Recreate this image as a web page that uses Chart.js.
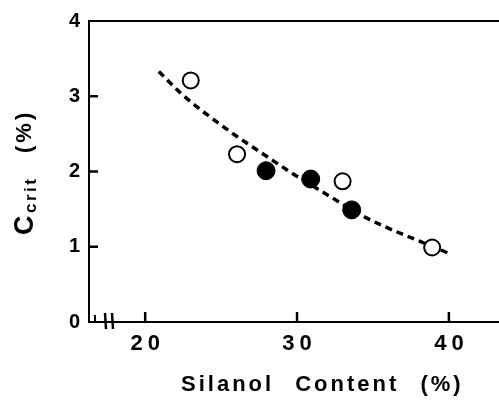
<!DOCTYPE html>
<html>
<head>
<meta charset="utf-8">
<script src="https://cdn.jsdelivr.net/npm/chart.js@4.4.1/dist/chart.umd.min.js"></script>
<style>
html,body{margin:0;padding:0;background:#fff;}
#wrap{width:499px;height:400px;position:relative;}
</style>
</head>
<body>
<div id="wrap"><canvas id="c" width="499" height="400"></canvas></div>
<script>
// ---- data ----
const openX = [23.0, 26.05, 33.0, 38.9];
const openY = [3.21, 2.23, 1.87, 0.99];
const filledX = [27.96, 30.9, 33.6];
const filledY = [2.01, 1.90, 1.49];
const fitX = [20.9, 22.4, 25.8, 27.2, 29.5, 32.4, 34.3, 39.9];
const fitY = [3.33, 3.03, 2.50, 2.31, 2.00, 1.64, 1.41, 0.92];
const xTicks = [20, 30, 40];
const yTicks = [0, 1, 2, 3, 4];
const xTitle = "Silanol Content (%)";
const yTitleMain = "C";
const yTitleSub = "crit";
const yTitleUnit = "(%)";

const pts = (xs, ys) => xs.map((x, i) => ({x: x, y: ys[i]}));
const FONT = "'Liberation Sans', Arial, Helvetica, sans-serif";

const decor = {
  id: 'decor',
  beforeDraw(chart) {
    const xs = chart.scales.x;
    if (!xs._patched) {
      const orig = xs.drawLabels;
      xs.drawLabels = function(area) {
        const ctx = this.ctx;
        ctx.save();
        ctx.letterSpacing = '5px';
        ctx.translate(2.5, 0);
        orig.call(this, area);
        ctx.restore();
      };
      xs._patched = true;
    }
  },
  afterDraw(chart) {
    const ctx = chart.ctx;
    const a = chart.chartArea;
    const xs = chart.scales.x, ys = chart.scales.y;
    ctx.save();
    ctx.strokeStyle = '#000';
    ctx.lineCap = 'butt';
    // top frame line
    ctx.lineWidth = 2;
    ctx.beginPath();
    ctx.moveTo(a.left, a.top);
    ctx.lineTo(a.right, a.top);
    ctx.stroke();
    // inward ticks
    ctx.lineWidth = 2.5;
    yTicks.forEach(v => {
      const py = ys.getPixelForValue(v);
      if (v === 0 || v === 4) return;
      ctx.beginPath();
      ctx.moveTo(a.left, py);
      ctx.lineTo(a.left + 9, py);
      ctx.stroke();
    });
    xTicks.forEach(v => {
      const px = xs.getPixelForValue(v);
      ctx.beginPath();
      ctx.moveTo(px, a.bottom);
      ctx.lineTo(px, a.bottom - 10);
      ctx.stroke();
    });
    // axis break marks
    ctx.lineWidth = 2.5;
    [105, 112].forEach(bx => {
      ctx.beginPath();
      ctx.moveTo(bx, a.bottom - 9);
      ctx.lineTo(bx + 1, a.bottom + 7);
      ctx.stroke();
    });
    ctx.lineWidth = 2;
    ctx.beginPath();
    ctx.moveTo(95, a.bottom);
    ctx.lineTo(95, a.bottom - 7);
    ctx.stroke();

    // x title
    ctx.fillStyle = '#000';
    ctx.textBaseline = 'alphabetic';
    ctx.textAlign = 'left';
    ctx.font = 'bold 22px ' + FONT;
    ctx.letterSpacing = '3px';
    ctx.wordSpacing = '12px';
    ctx.fillText(xTitle, 181, 391);
    ctx.wordSpacing = '0px';

    // y title, rotated
    ctx.save();
    ctx.rotate(-Math.PI / 2);
    ctx.font = 'bold 27px ' + FONT;
    ctx.letterSpacing = '0px';
    ctx.fillText(yTitleMain, -235, 33);
    ctx.font = 'bold 17px ' + FONT;
    ctx.letterSpacing = '2.5px';
    ctx.fillText(yTitleSub, -213, 36);
    ctx.font = 'bold 22px ' + FONT;
    ctx.letterSpacing = '3px';
    ctx.fillText(yTitleUnit, -153, 31);
    ctx.restore();
    ctx.restore();
  }
};

new Chart(document.getElementById('c'), {
  type: 'scatter',
  data: {
    datasets: [
      {
        type: 'line',
        data: pts(fitX, fitY),
        borderColor: '#000',
        borderWidth: 3.5,
        borderDash: [7, 5],
        pointRadius: 0,
        fill: false,
        cubicInterpolationMode: 'monotone',
        order: 3
      },
      {
        data: pts(openX, openY),
        pointStyle: 'circle',
        pointRadius: 8,
        pointBorderWidth: 2,
        pointBackgroundColor: '#fff',
        pointBorderColor: '#000',
        order: 1
      },
      {
        data: pts(filledX, filledY),
        pointStyle: 'circle',
        pointRadius: 9,
        pointBorderWidth: 1,
        pointBackgroundColor: '#000',
        pointBorderColor: '#000',
        order: 2
      }
    ]
  },
  options: {
    responsive: false,
    animation: false,
    events: [],
    clip: false,
    layout: {autoPadding: false, padding: {top: 19, right: 0, left: 0, bottom: 0}},
    plugins: {legend: {display: false}, tooltip: {enabled: false}},
    scales: {
      x: {
        type: 'linear',
        min: 16.3,
        max: 43.3,
        afterBuildTicks: s => { s.ticks = xTicks.map(v => ({value: v})); },
        afterFit: s => { s.height = 78; },
        grid: {display: false, drawTicks: false},
        border: {display: true, color: '#000', width: 2},
        ticks: {
          color: '#000',
          padding: 9,
          font: {family: FONT, size: 22, weight: 'bold'},
          maxRotation: 0,
          autoSkip: false
        }
      },
      y: {
        type: 'linear',
        min: 0,
        max: 4,
        afterBuildTicks: s => { s.ticks = yTicks.map(v => ({value: v})); },
        afterFit: s => { s.width = 89; },
        grid: {display: false, drawTicks: false},
        border: {display: true, color: '#000', width: 2},
        ticks: {
          color: '#000',
          padding: 9,
          font: {family: FONT, size: 20, weight: 'bold'}
        }
      }
    }
  },
  plugins: [decor]
});
</script>
</body>
</html>
